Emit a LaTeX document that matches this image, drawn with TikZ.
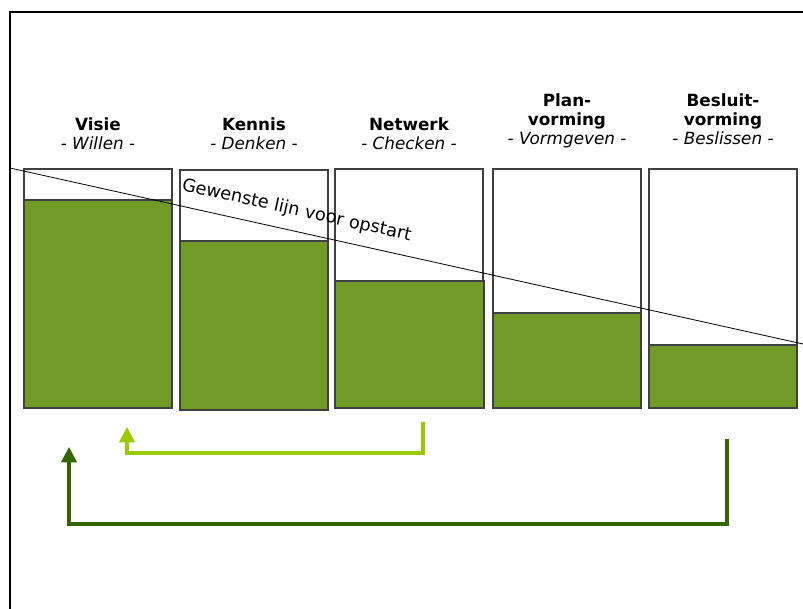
\documentclass[tikz,border=0pt]{standalone}
\usepackage{fontspec}
\setmainfont{DejaVu Sans}
\usepackage{xcolor}
\usetikzlibrary{arrows.meta}

\definecolor{barg}{RGB}{112,155,38}
\definecolor{lgreen}{RGB}{153,204,0}
\definecolor{dgreen}{RGB}{51,102,0}

\tikzset{
  kolom/.style={draw=black!75, line width=0.8pt, fill=white, inner sep=0pt, outer sep=0pt,
    minimum width=111pt, minimum height=179.25pt, anchor=north west},
  vulling/.style={draw=black!75, line width=0.8pt, fill=barg},
  kop/.style={font=\fontsize{12.6}{15}\selectfont\bfseries, inner sep=0pt, anchor=base},
  sub/.style={font=\fontsize{12.6}{15}\selectfont\itshape, inner sep=0pt, anchor=base},
  pijl/.style={line width=2.3pt, -{Triangle[width=11.5pt,length=11.5pt]}},
}

\begin{document}
\begin{tikzpicture}[x=0.75pt,y=-0.75pt]
\useasboundingbox (0,0) rectangle (803,608);
% kader
\draw [line width=1.5pt] (810,12) -- (10,12) -- (10,615);
% kolommen
\node (1) [kolom] at (24,169) {};
\node (2) [kolom] at (180,170) {};
\node (3) [kolom] at (335,169) {};
\node (4) [kolom] at (493,169) {};
\node (5) [kolom] at (649,169) {};
\draw [vulling] (24,200) rectangle (172,408);
\draw [vulling] (180,241) rectangle (328,410);
\draw [vulling] (335,281) rectangle (484,408);
\draw [vulling] (493,313) rectangle (641,408);
\draw [vulling] (649,345) rectangle (797,408);
% titels
\node (t1) [kop] at (98,130) {Visie};
\node (s1) [sub] at (98,149) {- Willen -};
\node (t2) [kop] at (254,130) {Kennis};
\node (s2) [sub] at (254,149) {- Denken -};
\node (t3) [kop] at (409,130) {Netwerk};
\node (s3) [sub] at (409,149) {- Checken -};
\node (t4) [kop] at (567,106) {Plan-};
\node (u4) [kop] at (567,125) {vorming};
\node (s4) [sub] at (567,144) {- Vormgeven -};
\node (t5) [kop] at (723,106) {Besluit-};
\node (u5) [kop] at (723,125) {vorming};
\node (s5) [sub] at (723,144) {- Beslissen -};
% gewenste lijn
\coordinate (l0) at (10,168);
\coordinate (l1) at (803,344);
\draw [line width=0.6pt] (l0)--(l1);
\node (lijn) [rotate=-12.5, anchor=base west, inner sep=0pt, font=\fontsize{13.3}{15}\selectfont] at (181,190) {Gewenste lijn voor opstart};
% terugkoppeling
\coordinate (a0) at (423,422);
\coordinate (a1) at (127,453);
\coordinate (a2) at (127,427);
\draw [pijl, lgreen] (a0) |- (a1) -- (a2);
\coordinate (b0) at (727,439);
\coordinate (b1) at (69,524);
\coordinate (b2) at (69,447);
\draw [pijl, dgreen] (b0) |- (b1) -- (b2);
\end{tikzpicture}
\end{document}
